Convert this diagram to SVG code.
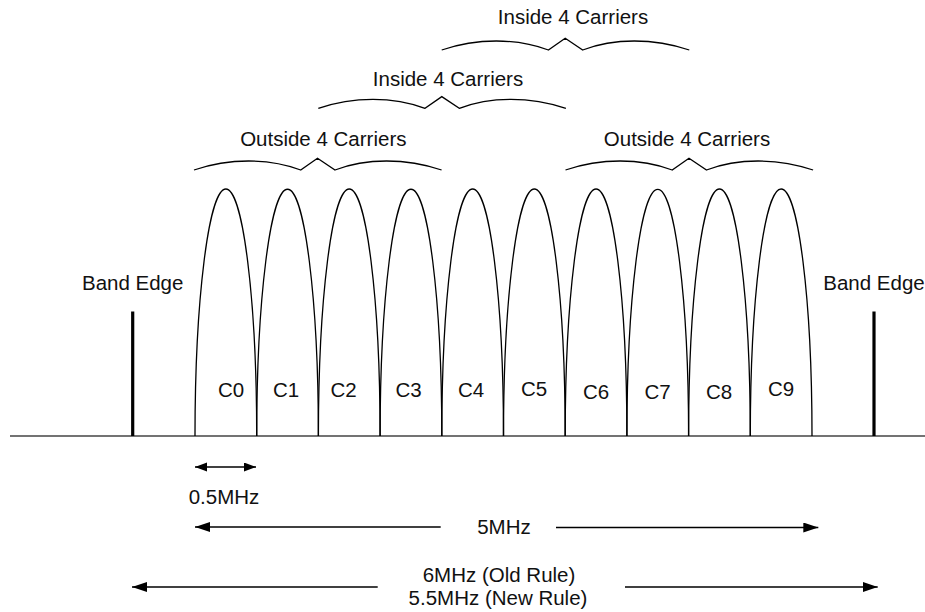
<svg xmlns="http://www.w3.org/2000/svg" xmlns:xlink="http://www.w3.org/1999/xlink" width="925" height="612" viewBox="0 0 925 612">
<style>
  text { font-family: "Liberation Sans", Arial, sans-serif; font-size: 20.5px; fill: #111; }
  .mid { text-anchor: middle; }
  .arch { fill: none; stroke: #000; stroke-width: 1.3; }
  .brace { fill: none; stroke: #000; stroke-width: 1.3; stroke-linejoin: miter; }
  .axis { stroke: #444; stroke-width: 1.6; fill: none; }
  .edge { stroke: #000; stroke-width: 3.2; fill: none; }
  .dim { stroke: #000; stroke-width: 1.4; fill: none; }
</style>
<defs>
  <path id="bracePath" d="M0,0 C35,-12 75,-12 106.7,0 L123.5,-11.7 L141,0 C172,-12 212,-12 247.6,0"/>
  <marker id="ah" markerUnits="userSpaceOnUse" markerWidth="16" markerHeight="11" refX="15" refY="5" orient="auto-start-reverse" viewBox="0 0 16 11">
    <path d="M0,0 L15,5 L0,10 z" fill="#000"/>
  </marker>
  <marker id="ahs" markerUnits="userSpaceOnUse" markerWidth="13" markerHeight="10" refX="12" refY="4.5" orient="auto-start-reverse" viewBox="0 0 13 10">
    <path d="M0,0 L12,4.5 L0,9 z" fill="#000"/>
  </marker>
</defs>
<rect width="925" height="612" fill="#fff"/>

<g id="axis">
  <line class="axis" x1="10" y1="436" x2="925" y2="436"/>
</g>

<g id="band-edge-left">
  <line class="edge" x1="132.7" y1="311.5" x2="132.7" y2="436"/>
  <text class="mid" x="132.7" y="290">Band Edge</text>
</g>
<g id="band-edge-right">
  <line class="edge" x1="874" y1="311.5" x2="874" y2="436"/>
  <text class="mid" x="874" y="290">Band Edge</text>
</g>

<g id="C0"><path class="arch" d="M195,436 A30.85,247 0 0 1 256.7,436"/><text class="mid" x="231" y="397">C0</text></g>
<g id="C1"><path class="arch" d="M256.7,436 A30.85,247 0 0 1 318.4,436"/><text class="mid" x="286" y="397">C1</text></g>
<g id="C2"><path class="arch" d="M318.4,436 A30.85,247 0 0 1 380.1,436"/><text class="mid" x="343.5" y="397">C2</text></g>
<g id="C3"><path class="arch" d="M380.1,436 A30.85,247 0 0 1 441.8,436"/><text class="mid" x="408.5" y="397">C3</text></g>
<g id="C4"><path class="arch" d="M441.8,436 A30.85,247 0 0 1 503.5,436"/><text class="mid" x="471" y="397">C4</text></g>
<g id="C5"><path class="arch" d="M503.5,436 A30.85,247 0 0 1 565.2,436"/><text class="mid" x="534" y="395.5">C5</text></g>
<g id="C6"><path class="arch" d="M565.2,436 A30.85,247 0 0 1 626.9,436"/><text class="mid" x="596" y="398.5">C6</text></g>
<g id="C7"><path class="arch" d="M626.9,436 A30.85,247 0 0 1 688.6,436"/><text class="mid" x="657.5" y="398.5">C7</text></g>
<g id="C8"><path class="arch" d="M688.6,436 A30.85,247 0 0 1 750.3,436"/><text class="mid" x="719" y="398.5">C8</text></g>
<g id="C9"><path class="arch" d="M750.3,436 A30.85,247 0 0 1 812,436"/><text class="mid" x="781" y="395.5">C9</text></g>

<g id="brace-outside-left">
  <use xlink:href="#bracePath" href="#bracePath" class="brace" transform="translate(194,170)"/>
  <text class="mid" x="323.3" y="146">Outside 4 Carriers</text>
</g>
<g id="brace-outside-right">
  <use xlink:href="#bracePath" href="#bracePath" class="brace" transform="translate(565.5,170)"/>
  <text class="mid" x="687" y="146">Outside 4 Carriers</text>
</g>
<g id="brace-inside-mid">
  <use xlink:href="#bracePath" href="#bracePath" class="brace" transform="translate(318.3,108.3)"/>
  <text class="mid" x="448" y="86">Inside 4 Carriers</text>
</g>
<g id="brace-inside-top">
  <use xlink:href="#bracePath" href="#bracePath" class="brace" transform="translate(441.7,50)"/>
  <text class="mid" x="573" y="24">Inside 4 Carriers</text>
</g>

<g id="connectors">
  <line class="dim" x1="195" y1="467" x2="256" y2="467" marker-start="url(#ahs)" marker-end="url(#ahs)"/>
  <line class="dim" x1="440.7" y1="527" x2="195" y2="527" marker-end="url(#ah)"/>
  <line class="dim" x1="556" y1="527.5" x2="818.3" y2="527.5" marker-end="url(#ah)"/>
  <line class="dim" x1="377.7" y1="587" x2="132" y2="587" marker-end="url(#ah)"/>
  <line class="dim" x1="625" y1="587" x2="877.7" y2="587" marker-end="url(#ah)"/>
</g>

<g id="labels">
  <text class="mid" x="224" y="503.5">0.5MHz</text>
  <text class="mid" x="504" y="533.5">5MHz</text>
  <text class="mid" x="499" y="582">6MHz (Old Rule)</text>
  <text class="mid" x="498" y="605">5.5MHz (New Rule)</text>
</g>
</svg>
